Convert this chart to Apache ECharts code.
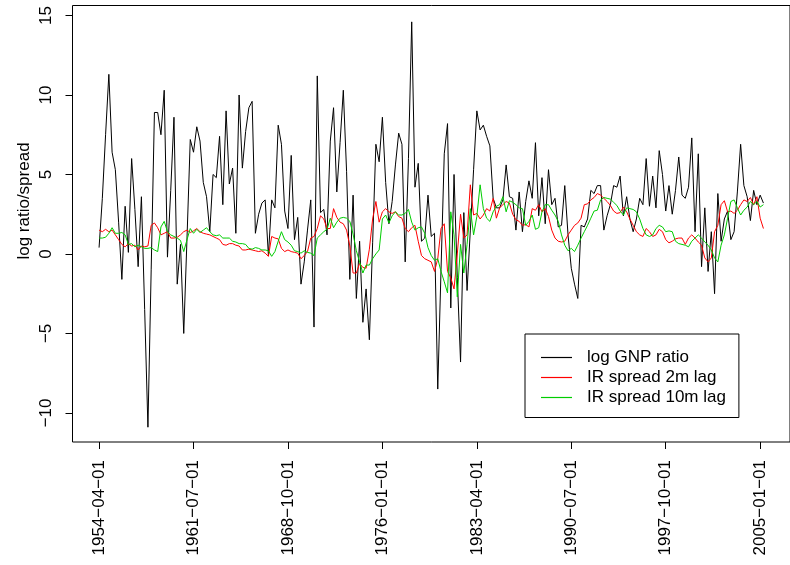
<!DOCTYPE html>
<html>
<head>
<meta charset="utf-8">
<script src="https://cdn.jsdelivr.net/npm/echarts@6/dist/echarts.min.js"></script>
<style>
html,body{margin:0;padding:0;background:#fff;}
#chart{width:790px;height:565px;}
</style>
</head>
<body>
<div id="chart"></div>
<script>
// Quarterly observations, 1954-04-01 onwards (index 0 = 1954 Q2)
const gnpRatio = [
0.4, 3.5, 7.5, 11.3, 6.4, 5.3, 2.0, -1.6, 3.0, 0.1,
6.0, 2.8, -0.8, 3.6, -3.5, -10.9, -1.0, 8.9, 8.9, 7.5,
10.3, -0.2, 4.0, 8.6, -1.9, 0.6, -5.0, 1.0, 7.2, 6.4,
8.0, 7.1, 4.5, 3.6, 1.4, 5.0, 4.8, 7.4, 3.1, 9.0,
4.4, 5.4, 1.3, 10.0, 5.4, 7.7, 9.2, 9.6, 1.3, 2.5,
3.2, 3.4, -0.1, 3.4, 2.9, 8.1, 6.9, 2.7, 1.6, 6.2,
0.9, 2.3, -1.9, -0.5, 1.5, 3.4, -4.6, 11.2, 2.6, 2.8,
1.2, 7.1, 9.2, 3.9, 7.0, 10.3, 5.2, -1.6, 3.7, -2.8,
0.8, -4.3, -2.2, -5.4, 0.7, 6.9, 5.8, 8.6, 4.5, 1.9,
3.3, 5.6, 7.6, 6.9, -0.5, 6.0, 14.6, 4.2, 5.7, 0.8,
1.0, 3.7, 1.1, 1.3, -8.5, -1.0, 6.3, 8.2, -3.4, 5.0,
-1.5, -6.8, 2.6, -2.3, 1.5, 5.3, 9.0, 7.8, 8.1, 7.4,
6.8, 3.5, 2.9, 2.9, 3.4, 5.6, 3.6, 3.5, 1.5, 3.9,
1.4, 3.3, 4.6, 3.5, 7.0, 2.4, 4.8, 1.9, 5.3, 3.1,
3.5, 1.7, 1.8, 4.3, 1.2, -0.9, -1.9, -2.8, 1.8, 1.7,
2.2, 4.0, 3.8, 4.3, 4.3, 1.5, 2.4, 3.1, 4.3, 4.2,
4.9, 2.4, 3.6, 2.2, 1.4, 2.2, 3.5, 3.1, 6.0, 3.0,
4.9, 2.9, 6.5, 5.0, 2.7, 4.3, 2.5, 4.0, 6.1, 3.7,
3.5, 4.2, 7.3, 1.4, 6.3, -0.8, 2.9, -1.1, 1.4, -2.5,
3.8, 0.8, 2.2, 2.7, 0.9, 1.4, 3.9, 6.9, 4.3, 3.6,
2.1, 4.0, 3.1, 3.7, 3.2
];
const spread2m = [
1.5, 1.4, 1.55, 1.4, 1.5, 1.2, 0.9, 0.6, 0.45, 0.65,
0.5, 0.55, 0.25, 0.5, 0.45, 0.5, 1.8, 1.95, 1.65, 1.2,
1.3, 1.4, 1.0, 1.0, 1.05, 1.2, 1.4, 1.5, 1.35, 1.45,
1.6, 1.4, 1.3, 1.25, 1.2, 1.1, 1.0, 0.9, 0.6, 0.55,
0.65, 0.65, 0.55, 0.5, 0.25, 0.25, 0.3, 0.25, 0.2, 0.15,
0.2, 0.05, -0.15, 1.1, 1.0, 0.95, 0.35, 0.15, 0.25, 0.15,
0.1, 0.05, -0.3, -0.1, 0.15, 1.0, 1.1, 1.6, 2.4, 2.2,
1.6, 1.6, 2.85, 2.3, 2.0, 1.9, 1.5, 0.5, -1.2, -1.2,
-0.6, -0.85, -0.9, 0.3, 2.2, 3.3, 2.0, 2.65, 2.85, 2.65,
2.55, 2.65, 2.35, 2.25, 1.6, 1.4, 1.65, 1.8, 0.8, -0.1,
-0.3, -0.4, -0.5, -1.1, -0.3, 1.6, 1.9, -1.1, -1.5, -2.2,
0.0, 2.5, 1.0, 1.2, 4.35, 2.45, 2.55, 2.2, 2.45, 2.85,
2.7, 3.5, 2.25, 2.9, 3.1, 3.3, 3.2, 2.5, 2.15, 2.05,
1.8, 1.85, 1.7, 2.85, 2.75, 3.1, 2.65, 2.85, 2.35, 1.5,
1.0, 0.8, 0.75, 0.8, 1.2, 1.5, 1.8, 1.95, 2.25, 3.1,
3.15, 3.4, 3.55, 3.8, 3.7, 3.5, 3.3, 3.05, 2.7, 2.55,
2.6, 2.95, 2.65, 2.2, 1.8, 1.4, 1.2, 1.1, 1.6, 1.4,
1.1, 1.2, 1.55, 1.4, 0.9, 0.7, 0.8, 0.95, 1.0, 1.0,
0.6, 1.0, 1.2, 1.0, 0.75, 0.55, -0.25, -0.5, -0.25, 1.4,
1.8, 3.1, 3.35, 2.65, 2.7, 2.55, 2.75, 3.1, 3.4, 3.3,
3.55, 3.1, 3.6, 2.25, 1.6
];
const spread10m = [
1.0, 1.0, 1.05, 1.3, 1.65, 1.3, 1.3, 1.35, 1.2, 0.6,
0.65, 0.45, 0.55, 0.45, 0.35, 0.35, 0.4, 0.25, 0.15, 1.7,
2.05, 1.4, 1.2, 1.1, 1.0, 0.85, 0.15, 0.9, 1.6, 1.3,
1.55, 1.35, 1.5, 1.65, 1.4, 1.2, 1.15, 1.2, 1.0, 1.0,
1.0, 0.8, 0.75, 0.65, 0.65, 0.6, 0.35, 0.3, 0.4, 0.35,
0.25, 0.25, 0.2, -0.15, 0.15, 0.8, 1.4, 0.9, 0.75, 0.55,
0.2, 0.15, 0.05, 0.2, 0.1, 0.05, -0.1, 1.0, 1.2, 1.4,
1.55, 2.25, 1.65, 2.0, 2.25, 2.3, 2.25, 2.05, 1.25, 0.2,
-0.5, -1.2, -0.7, -0.7, -0.3, 0.0, 0.25, 2.2, 2.45, 1.95,
2.4, 2.65, 2.45, 2.45, 2.55, 2.8, 2.0, 1.5, 1.65, 1.7,
1.3, 0.4, -0.1, -0.4, -0.3, -1.1, -1.75, -2.45, 2.65, 1.2,
-2.7, 0.6, -1.2, 0.6, 2.85, 1.2, 2.35, 4.35, 2.85, 2.25,
2.05, 2.65, 3.0, 3.1, 3.6, 2.65, 3.35, 3.25, 3.1, 2.9,
2.85, 1.8, 2.05, 2.45, 1.55, 1.65, 2.65, 3.1, 3.1, 2.75,
2.45, 2.05, 1.2, 0.55, 0.2, 0.35, 0.15, 0.55, 1.0, 1.4,
1.8, 2.25, 2.7, 2.75, 3.4, 3.55, 3.5, 3.45, 3.25, 3.05,
2.7, 2.45, 2.9, 2.85, 2.8, 2.65, 2.2, 1.6, 1.2, 1.1,
1.2, 1.6, 1.8, 1.7, 1.4, 1.45, 1.4, 0.8, 0.65, 0.6,
0.55, 0.45, 0.8, 1.0, 1.2, 1.0, 0.75, 0.55, 0.25, -0.25,
-0.5, 0.55, 1.2, 2.25, 3.3, 3.4, 2.9, 2.45, 2.75, 2.95,
3.3, 3.1, 3.3, 2.95, 3.1
];
const seriesNames = ['log GNP ratio', 'IR spread 2m lag', 'IR spread 10m lag'];
const yAxisTitle = 'log ratio/spread';
const dateTickLabels = ['1954-04-01','1961-07-01','1968-10-01','1976-01-01','1983-04-01','1990-07-01','1997-10-01','2005-01-01'];
const dateTickIndex = [0, 29, 58, 87, 116, 145, 174, 203];
const yTicks = [-10, -5, 0, 5, 10, 15];

const FONT = '"Liberation Sans", Arial, Helvetica, sans-serif';
const minus = s => String(s).replace(/-/g, '\u2212');
const toPairs = arr => arr.map((v, i) => [i, v]);
const n = gnpRatio.length - 1;
const pad = n * 0.04;

const chart = echarts.init(document.getElementById('chart'), null, {renderer: 'canvas'});
chart.setOption({
  animation: false,
  backgroundColor: '#ffffff',
  textStyle: {fontFamily: FONT},
  grid: {left: 72.5, top: 5.5, width: 728, height: 436.5, show: true, borderColor: '#000', borderWidth: 1, backgroundColor: 'transparent', containLabel: false},
  graphic: [{
    type: 'text', x: 24, y: 201, rotation: Math.PI / 2, silent: true,
    style: {text: yAxisTitle, fill: '#000', font: '17px ' + FONT, align: 'center', verticalAlign: 'middle', textAlign: 'center', textVerticalAlign: 'middle'}
  }],
  legend: {
    orient: 'vertical', left: 525, top: 334,
    data: seriesNames,
    icon: 'rect', itemWidth: 31, itemHeight: 1.2, itemGap: 0,
    padding: [13.5, 13, 10, 16],
    borderColor: '#000', borderWidth: 1, backgroundColor: '#fff',
    textStyle: {fontFamily: FONT, fontSize: 17, color: '#000', lineHeight: 20, padding: [0, 0, 0, 10]},
    selectedMode: false
  },
  xAxis: {
    type: 'value', min: -pad, max: n + pad,
    axisLine: {show: false, onZero: false},
    splitLine: {show: false},
    axisTick: {show: true, length: 7, inside: false, customValues: dateTickIndex, lineStyle: {color: '#000'}},
    axisLabel: {
      show: true, rotate: 90, margin: 18, fontSize: 17, color: '#000', fontFamily: FONT,
      customValues: dateTickIndex,
      formatter: v => { const k = dateTickIndex.indexOf(Math.round(v)); return k >= 0 ? minus(dateTickLabels[k]) : ''; }
    }
  },
  yAxis: {
    type: 'value', min: -11.83, max: 15.63,
    axisLine: {show: false, onZero: false},
    splitLine: {show: false},
    axisTick: {show: true, length: 7, inside: false, customValues: yTicks, lineStyle: {color: '#000'}},
    axisLabel: {
      show: true, rotate: 90, margin: 18, fontSize: 17, color: '#000', fontFamily: FONT,
      customValues: yTicks,
      formatter: v => minus(v)
    }
  },
  series: [
    {name: seriesNames[0], type: 'line', data: toPairs(gnpRatio), showSymbol: false, symbol: 'none', lineStyle: {color: '#000000', width: 1}, itemStyle: {color: '#000000'}},
    {name: seriesNames[1], type: 'line', data: toPairs(spread2m), showSymbol: false, symbol: 'none', lineStyle: {color: '#FF0000', width: 1}, itemStyle: {color: '#FF0000'}},
    {name: seriesNames[2], type: 'line', data: toPairs(spread10m), showSymbol: false, symbol: 'none', lineStyle: {color: '#00CD00', width: 1}, itemStyle: {color: '#00CD00'}}
  ]
});
</script>
</body>
</html>
